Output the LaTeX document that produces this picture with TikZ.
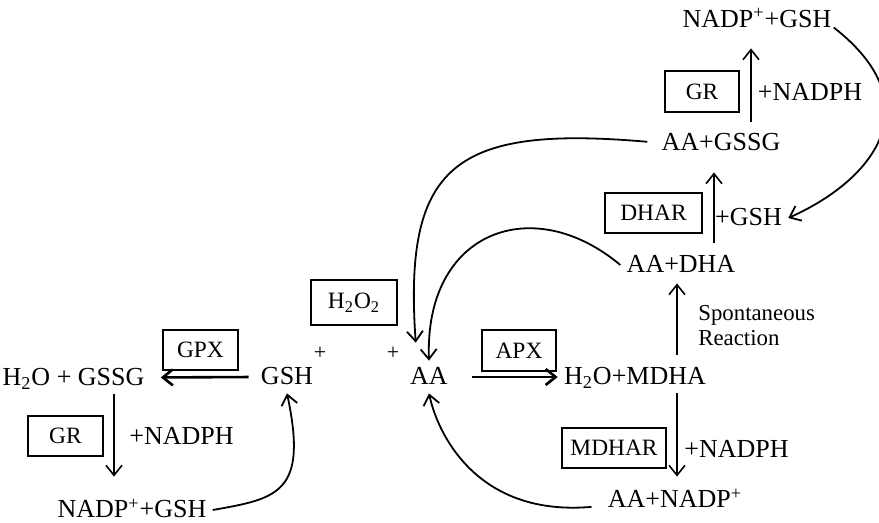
\documentclass[tikz,border=0pt]{standalone}
\usepackage{fontspec}
\setmainfont{Liberation Serif}
\usetikzlibrary{arrows.meta}

\begin{document}
\begin{tikzpicture}[x=0.5pt,y=-0.5pt,
    chem/.style={font=\fontsize{13}{15}\selectfont, inner sep=3pt, text height=9pt, text depth=1pt},
    enz/.style={draw, line width=0.9pt, font=\fontsize{11.7}{14}\selectfont, inner sep=0pt},
    rxn/.style={-{Straight Barb[length=5pt,width=8pt]}, line width=0.8pt},
    bigrxn/.style={rxn, line width=1.3pt},
    recyc/.style={-{Straight Barb[length=5pt,width=8pt]}, line width=0.9pt}]
\useasboundingbox (0,0) rectangle (879,523);

\node[chem] (nadpT) at (757,19.5) {NADP\textsuperscript{+}+GSH};
\node[chem] (nadphT) at (810,93) {+NADPH};
\node[enz, minimum width=37pt, minimum height=20.5pt] (grT) at (702,91.5) {GR};
\node[chem] (gssgR) at (721,142.5) {AA+GSSG};
\node[enz, minimum width=48.5pt, minimum height=20pt] (dhar) at (653.5,213) {DHAR};
\node[chem] (plusgsh) at (748.5,218) {+GSH};
\node[chem] (dha) at (681,265) {AA+DHA};
\node[font=\fontsize{11.4}{12.5}\selectfont, align=left, anchor=west, inner sep=0pt] (spont) at (698,325.5) {Spontaneous\\Reaction};
\node[chem] (mdha) at (635,377) {H\textsubscript{2}O+MDHA};
\node[enz, minimum width=52pt, minimum height=20pt] (mdhar) at (614,448) {MDHAR};
\node[chem] (nadphR) at (736.5,450) {+NADPH};
\node[chem] (nadpR) at (675,500) {AA+NADP\textsuperscript{+}};

\node[chem] (aa) at (429,377) {AA};
\node[enz, minimum width=37pt, minimum height=20.5pt] (apx) at (519,350.5) {APX};
\node[enz, minimum width=43pt, minimum height=22.5pt] (h2o2) at (354,302.5) {H\textsubscript{2}O\textsubscript{2}};
\node[font=\fontsize{11}{12}\selectfont] (plusA) at (393,353) {+};
\node[font=\fontsize{11}{12}\selectfont] (plusG) at (320,353) {+};
\node[chem] (gsh) at (287,377) {GSH};
\node[enz, minimum width=37.5pt, minimum height=20pt] (gpx) at (200.5,350) {GPX};
\node[chem] (gssgL) at (73.5,377.5) {H\textsubscript{2}O + GSSG};
\node[enz, minimum width=37.5pt, minimum height=20pt] (grL) at (65.5,436) {GR};
\node[chem] (nadphL) at (181.5,437) {+NADPH};
\node[chem] (nadpL) at (132,510) {NADP\textsuperscript{+}+GSH};

\draw[rxn, shorten <=2.25pt, shorten >=6.25pt] ([xshift=15pt]gssgR.north) -- ([xshift=15pt]gssgR.north |- nadpT.south);
\draw[rxn, shorten <=3pt, shorten >=6.75pt] ([xshift=16.5pt]dha.north) -- ([xshift=16.5pt]dha.north |- gssgR.south);
\draw[rxn, shorten <=3pt, shorten >=1pt] ([xshift=21pt]mdha.north) -- ([xshift=21pt]mdha.north |- dha.south);
\draw[rxn, shorten >=3.5pt] ([xshift=21pt]mdha.south) -- ([xshift=21pt]mdha.south |- nadpR.north);
\draw[rxn, shorten >=8.5pt] ([xshift=20.25pt]gssgL.south) -- ([xshift=20.25pt]gssgL.south |- nadpL.north);
\draw[bigrxn, shorten <=8.75pt] (aa.east) -- (mdha.west);
\draw[bigrxn, shorten <=3pt, shorten >=5pt] (gsh.west) -- (gssgL.east);

\draw[recyc] ([xshift=-2pt,yshift=-4pt]nadpT.east) to[out=-38, in=24, out distance=64pt, in distance=45pt] (plusgsh.east);
\draw[recyc, shorten <=4pt, shorten >=9pt] (gssgR.west) to[out=175, in=94, out distance=101pt, in distance=98pt] ([xshift=-6pt]aa.north);
\draw[recyc] (dha.west) to[out=140, in=92, out distance=57pt, in distance=65pt] (aa.north);
\draw[recyc, shorten <=5pt] ([yshift=-3pt]nadpR.west) to[out=185, in=-78, out distance=63pt, in distance=20pt] (aa.south);
\draw[recyc] (nadpL.east) to[out=10, in=-78, out distance=33pt, in distance=51pt] (gsh.south);
\end{tikzpicture}
\end{document}
